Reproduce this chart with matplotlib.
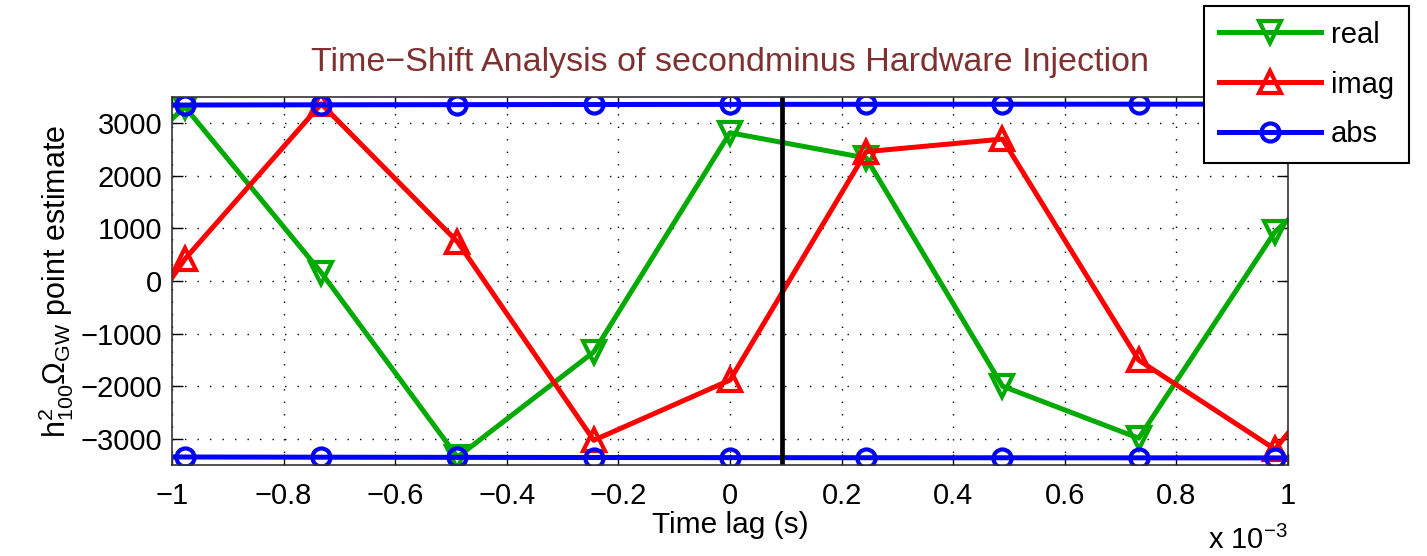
import numpy as np
import matplotlib.pyplot as plt

plt.rcParams['font.family'] = ['Liberation Sans', 'DejaVu Sans']
plt.rcParams['mathtext.fontset'] = 'custom'
plt.rcParams['mathtext.rm'] = 'Liberation Sans'
plt.rcParams['mathtext.it'] = 'Liberation Sans'

# lags in units of 1e-3 s (k/4096 s, k = -5..5)
lag = [-1.2207, -0.9766, -0.7324, -0.4883, -0.2441, 0.0,
       0.2441, 0.4883, 0.7324, 0.9766, 1.2207]
real = [950, 3310, 160, -3350, -1350, 2820, 2340, -2000, -2990, 935, 3320]
imag = [-3330, 420, 3370, 745, -3030, -1885, 2460, 2700, -1505, -3200, -20]
absv = [3345, 3348, 3352, 3355, 3358, 3360, 3362, 3363, 3364, 3365, 3366]
true_lag = 0.093

fig = plt.figure(figsize=(14.27, 5.56), dpi=100)
ax = fig.add_axes([0.1205, 0.1637, 0.7821, 0.6618])

lw = 3.6
ms = 16
mew = 3.0
green = '#00aa00'
ax.plot(lag, real, '-v', color=green, lw=lw, ms=ms, mew=mew, mfc='none', label='real')
ax.plot(lag, imag, '-^', color='#ff0000', lw=lw, ms=ms, mew=mew, mfc='none', label='imag')
ax.plot(lag, absv, '-o', color='#0000ff', lw=lw, ms=13, mew=mew, mfc='none', label='abs')
ax.plot(lag, -np.array(absv), '-o', color='#0000ff', lw=lw, ms=13, mew=mew, mfc='none')
ax.axvline(true_lag, color='black', lw=3.4)

ax.set_xlim(-1, 1)
ax.set_ylim(-3500, 3500)
ax.set_xticks(np.arange(-1, 1.01, 0.2))
ax.set_xticklabels(['\u22121', '\u22120.8', '\u22120.6', '\u22120.4', '\u22120.2', '0',
                    '0.2', '0.4', '0.6', '0.8', '1'])
ax.set_yticks(np.arange(-3000, 3001, 1000))
ax.tick_params(direction='in', length=8, width=1, labelsize=21, top=True, right=True)
ax.tick_params(axis='x', pad=12)
ax.tick_params(axis='y', pad=7)
ax.grid(True, color='black', linestyle=(0, (1, 8)), linewidth=1.0)
for s in ax.spines.values():
    s.set_color('#333333')
    s.set_linewidth(1.2)

ax.set_xlabel('Time lag (s)', fontsize=21.5, labelpad=1)
ax.set_ylabel(r'$\mathregular{h^2_{100}\Omega_{GW}}$ point estimate', fontsize=22, labelpad=3)
ax.set_title('Time\u2212Shift Analysis of secondminus Hardware Injection',
             fontsize=24.5, color='#7f3030', pad=19)
fig.text(0.9026, 0.013, r'x 10$^{-3}$', ha='right', va='baseline', fontsize=21)

# legend box runs off the top edge of the figure
leg = fig.legend(loc='lower left', bbox_to_anchor=(0.8437, 0.7068), bbox_transform=fig.transFigure,
                 fontsize=21, handlelength=3.5, handletextpad=0.35, labelspacing=0.75,
                 borderpad=0.5, borderaxespad=0, fancybox=False, framealpha=1, edgecolor='black')
leg.get_frame().set_linewidth(1.5)

fig.savefig('out.png', dpi=100)
